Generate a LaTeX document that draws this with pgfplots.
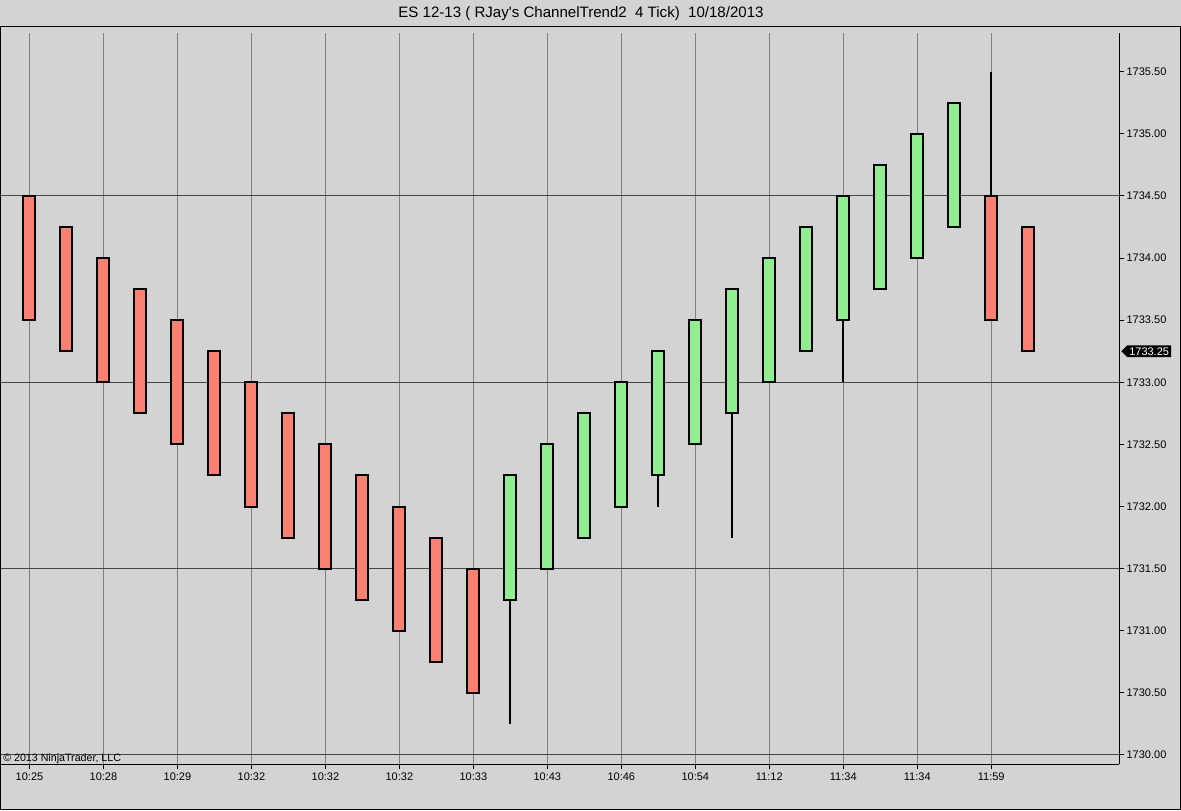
\documentclass[border=0pt]{standalone}
\usepackage{fontspec}
\setmainfont{Liberation Sans}[Ligatures=TeXOff]
\usepackage{pgfplots}
\pgfplotsset{compat=1.18}
\usepackage{pgfplotstable}
\usetikzlibrary{shapes.symbols}

\definecolor{chartbg}{RGB}{211,211,211}
\definecolor{downbar}{RGB}{250,128,114}
\definecolor{upbar}{RGB}{144,238,144}
\definecolor{vgrid}{RGB}{128,128,128}
\definecolor{hgrid}{RGB}{70,70,70}

% bar bodies: bar index, bottom, top
\pgfplotstableread{
x lo hi
0 1733.50 1734.50
1 1733.25 1734.25
2 1733.00 1734.00
3 1732.75 1733.75
4 1732.50 1733.50
5 1732.25 1733.25
6 1732.00 1733.00
7 1731.75 1732.75
8 1731.50 1732.50
9 1731.25 1732.25
10 1731.00 1732.00
11 1730.75 1731.75
12 1730.50 1731.50
26 1733.50 1734.50
27 1733.25 1734.25
}\downbars

\pgfplotstableread{
x lo hi
13 1731.25 1732.25
14 1731.50 1732.50
15 1731.75 1732.75
16 1732.00 1733.00
17 1732.25 1733.25
18 1732.50 1733.50
19 1732.75 1733.75
20 1733.00 1734.00
21 1733.25 1734.25
22 1733.50 1734.50
23 1733.75 1734.75
24 1734.00 1735.00
25 1734.25 1735.25
}\upbars

% wicks outside the bodies
\pgfplotstableread{
x lo hi
13 1730.25 1731.25
17 1732.00 1732.25
19 1731.75 1732.75
22 1733.00 1733.50
26 1734.50 1735.50
}\wicks

% colour, line width, shortening at both ends
\pgfplotsset{
  body/.style n args={3}{draw=none, mark=none, forget plot,
    error bars/.cd, y dir=plus, y explicit, error mark=none,
    error bar style={draw=#1, line width=#2, shorten <=#3, shorten >=#3}},
}

\begin{document}
\begin{tikzpicture}
\fill[chartbg] (0,0) rectangle (885.75pt,607.5pt);
\draw[black, line width=0.75pt] (0.375pt,0.375pt) rectangle (885.375pt,587.25pt);
\node[font=\fontsize{11.3}{13}\selectfont] at (435.75pt,597pt)
  {ES 12-13 ( RJay's ChannelTrend2\ \ 4 Tick)\ \ 10/18/2013};

\begin{axis}[
  at={(0.75pt,34.5pt)}, anchor=south west,
  scale only axis, width=838.5pt, height=548.25pt,
  xmin=-0.77, xmax=29.454,
  ymin=1729.927, ymax=1735.812,
  axis x line*=bottom, axis y line*=right,
  axis line style={black, line width=0.75pt},
  tick align=outside, major tick length=4pt,
  tick style={black, line width=0.75pt},
  xtick={0,2,...,26},
  xticklabels={10:25,10:28,10:29,10:32,10:32,10:32,10:33,10:43,10:46,10:54,11:12,11:34,11:34,11:59},
  xmajorgrids, major grid style={vgrid, line width=0.75pt},
  ytick={1730,1730.5,...,1735.5},
  /pgf/number format/assume math mode=true,
  ticklabel style={font=\fontsize{8.25}{10}\selectfont},
  xticklabel style={inner sep=2.5pt},
  yticklabel style={inner sep=1.5pt, /pgf/number format/.cd, fixed, fixed zerofill, precision=2, 1000 sep={}},
  extra y ticks={1730,1731.5,1733,1734.5},
  extra y tick labels={},
  extra y tick style={ymajorgrids=true, major grid style={hgrid, line width=0.75pt}},
  clip=false,
]
% wicks
\addplot[body={black}{1.5pt}{0pt}] table[x=x, y=lo, y error plus expr=\thisrow{hi}-\thisrow{lo}] {\wicks};
% outlines
\addplot[body={black}{10.5pt}{-0.75pt}]
  table[x=x, y=lo, y error plus expr=\thisrow{hi}-\thisrow{lo}] {\downbars};
\addplot[body={black}{10.5pt}{-0.75pt}]
  table[x=x, y=lo, y error plus expr=\thisrow{hi}-\thisrow{lo}] {\upbars};
% fills
\addplot[body={downbar}{7.5pt}{0.75pt}]
  table[x=x, y=lo, y error plus expr=\thisrow{hi}-\thisrow{lo}] {\downbars};
\addplot[body={upbar}{7.5pt}{0.75pt}]
  table[x=x, y=lo, y error plus expr=\thisrow{hi}-\thisrow{lo}] {\upbars};

\node[signal, signal to=west, signal pointer angle=90, fill=black, text=white,
  font=\fontsize{8.25}{10}\selectfont, inner xsep=1.5pt, inner ysep=1.5pt, anchor=west]
  at ([xshift=1.5pt]axis cs:29.454,1733.25) {1733.25};
\node[anchor=base west, inner sep=0pt, font=\fontsize{8}{10}\selectfont]
  at ([xshift=1.5pt, yshift=1.6pt]axis cs:-0.77,1729.927) {\textcopyright{} 2013 NinjaTrader, LLC};
\end{axis}
\end{tikzpicture}
\end{document}
